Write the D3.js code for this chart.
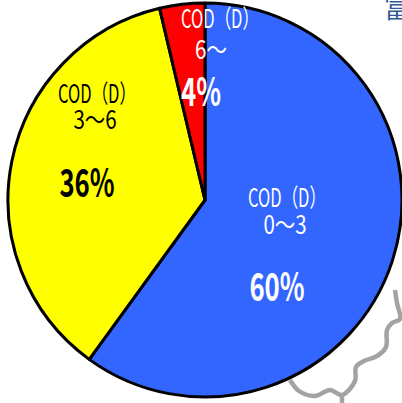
<!DOCTYPE html>
<html>
<head>
<meta charset="utf-8">
<script src="https://cdn.jsdelivr.net/npm/d3@7"></script>
<style>
  html, body { margin: 0; padding: 0; background: #fff; overflow: hidden; }
  svg { display: block; }
  text { font-family: "Noto Sans CJK JP", "Noto Sans", sans-serif; }
</style>
</head>
<body>
<svg id="chart"></svg>
<script>
  const W = 402, H = 403;

  const names = ["COD（D）", "COD（D）", "COD（D）"];
  const ranges = ["0～3", "3～6", "6～"];
  const percents = [60, 36, 4];
  // slice sizes, the red one is a bit under its 4% label
  const shares = [60, 36.3, 3.7];
  const colors = ["#3366ff", "#ffff00", "#ff0000"];
  const inks = ["#fff", "#000", "#fff"];

  // bits of the map that sits behind the pie in the source picture
  const mapLine = [[290, 380], [299, 391], [315, 396], [330, 390], [342, 395], [355, 381], [356, 367],
    [364, 361], [377, 356], [386, 347], [387, 330], [392, 323], [400, 319], [397, 303], [395, 290]];

  const svg = d3.select("#chart").attr("width", W).attr("height", H);

  svg.append("path")
    .attr("d", d3.line().curve(d3.curveCatmullRom)(mapLine))
    .attr("fill", "none").attr("stroke", "#a3a3a3").attr("stroke-width", 4.5);
  svg.append("line").attr("x1", 342).attr("y1", 395).attr("x2", 342).attr("y2", 403)
    .attr("stroke", "#a3a3a3").attr("stroke-width", 4.5);
  svg.append("text").text("富").attr("x", 384).attr("y", 18)
    .attr("font-size", 26).attr("fill", "#2f5a96");

  const cx = 205, cy = 200, R = 197;
  const pie = d3.pie().sort(null)(shares);
  const arc = d3.arc().innerRadius(0).outerRadius(R);

  const g = svg.append("g").attr("transform", `translate(${cx},${cy})`);
  g.selectAll("path").data(pie).join("path")
    .attr("d", arc)
    .attr("fill", (d, i) => colors[i])
    .attr("stroke", "#000").attr("stroke-width", 3).attr("stroke-linejoin", "round");

  // label anchors, [x, baseline] for name, range and percent
  const nameAt = [[287, 207], [97, 103], [220, 28]];
  const rangeAt = [[285, 234], [95, 129], [211, 59]];
  const pctAt = [[277, 301], [87, 197], [201, 106]];

  // the source text is a tall condensed face, so squeeze it horizontally
  const squeezed = ([x, y], str, size, weight, fill, sx) => svg.append("text")
    .attr("transform", `translate(${x},${y}) scale(${sx},1)`)
    .attr("text-anchor", "middle")
    .attr("font-size", size).attr("font-weight", weight).attr("fill", fill)
    .text(str);

  percents.forEach((p, i) => {
    squeezed(nameAt[i], names[i], 25, 400, inks[i], 0.66);
    squeezed(rangeAt[i], ranges[i], 25, 400, inks[i], 0.82);
    squeezed(pctAt[i], p + "%", 39, 700, inks[i], 0.66);
  });
</script>
</body>
</html>
